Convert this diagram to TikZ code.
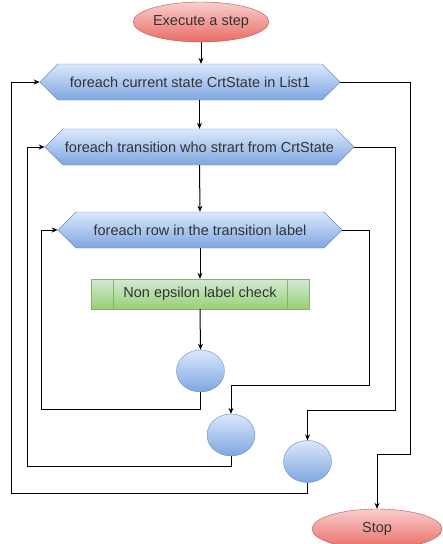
\documentclass[tikz,border=0pt]{standalone}
\usepackage{fontspec}
\setmainfont{Liberation Sans}
\usetikzlibrary{shapes.geometric,shapes.symbols,arrows.meta}

\definecolor{redtop}{HTML}{F8CECC}
\definecolor{redbot}{HTML}{EA6B66}
\definecolor{redline}{HTML}{B85450}
\definecolor{bluetop}{HTML}{DAE8FC}
\definecolor{bluebot}{HTML}{7EA6E0}
\definecolor{blueline}{HTML}{6C8EBF}
\definecolor{greentop}{HTML}{D5E8D4}
\definecolor{greenbot}{HTML}{97D077}
\definecolor{greenline}{HTML}{82B366}
\definecolor{ink}{HTML}{333333}

\tikzset{
  labelfont/.style={font=\fontsize{14.5}{17}\selectfont},
  terminal/.style={ellipse, draw=redline, top color=redtop, bottom color=redbot,
    minimum width=132pt, minimum height=40pt, inner sep=0pt, text=ink, labelfont},
  loopbox/.style={signal, signal to=west and east, signal pointer angle=90,
    draw=blueline, top color=bluetop, bottom color=bluebot,
    minimum height=36pt, inner sep=0pt, text=ink, labelfont},
  procbox/.style={rectangle, draw=greenline, top color=greentop, bottom color=greenbot,
    minimum width=218pt, minimum height=30pt, inner sep=0pt, text=ink, labelfont},
  joint/.style={ellipse, draw=blueline, top color=bluetop, bottom color=bluebot,
    minimum width=48pt, minimum height=42pt, inner sep=0pt},
  flow/.style={draw=black, line width=1pt, -{Stealth[length=6pt,width=5pt]}},
}

\begin{document}
\begin{tikzpicture}[x=1pt,y=-1pt]
\useasboundingbox (0,0) rectangle (443,544);

% shapes
\node[terminal] (start) at (201,22) {Execute a step};
\node[loopbox, minimum width=300pt] (h1) at (190,82) {foreach current state CrtState in List1};
\node[loopbox, minimum width=309pt] (h2) at (199.5,147) {foreach transition who strart from CrtState};
\node[loopbox, minimum width=284pt] (h3) at (200,230) {foreach row in the transition label};
\node[procbox] (chk) at (200,294) {Non epsilon label check};
\draw[greenline] ([xshift=22pt]chk.north west) -- ([xshift=22pt]chk.south west)
                 ([xshift=-22pt]chk.north east) -- ([xshift=-22pt]chk.south east);
\node[joint] (c1) at (200.5,371) {};
\node[joint] (c2) at (231,435) {};
\node[joint] (c3) at (307.5,461.5) {};
\node[terminal, minimum width=130pt] (stop) at (377,529) {Stop};

% routing corners
\coordinate (l3) at (41,409);
\coordinate (l2) at (27,466);
\coordinate (l1) at (11,493);
\coordinate (r3) at (369,385);
\coordinate (r2) at (395,410);
\coordinate (r1) at (410,454);

% main chain
\draw[flow] (start.south) -- (start.south |- h1.north);
\draw[flow] (h2.north |- h1.south) -- (h2.north);
\draw[flow] (h2.south) -- (h3.north);
\draw[flow] (h3.south) -- (chk.north);
\draw[flow] (chk.south) -- (c1.north);

% loop returns
\draw[flow] (c1.south) |- (l3) |- (h3.west);
\draw[flow] (c2.south) |- (l2) |- (h2.west);
\draw[flow] (c3.south) |- (l1) |- (h1.west);

% loop exits
\draw[flow] (h3.east) -| (r3) -| (c2.north);
\draw[flow] (h2.east) -| (r2) -| (c3.north);
\draw[flow] (h1.east) -| (r1) -| (stop.north);
\end{tikzpicture}
\end{document}
